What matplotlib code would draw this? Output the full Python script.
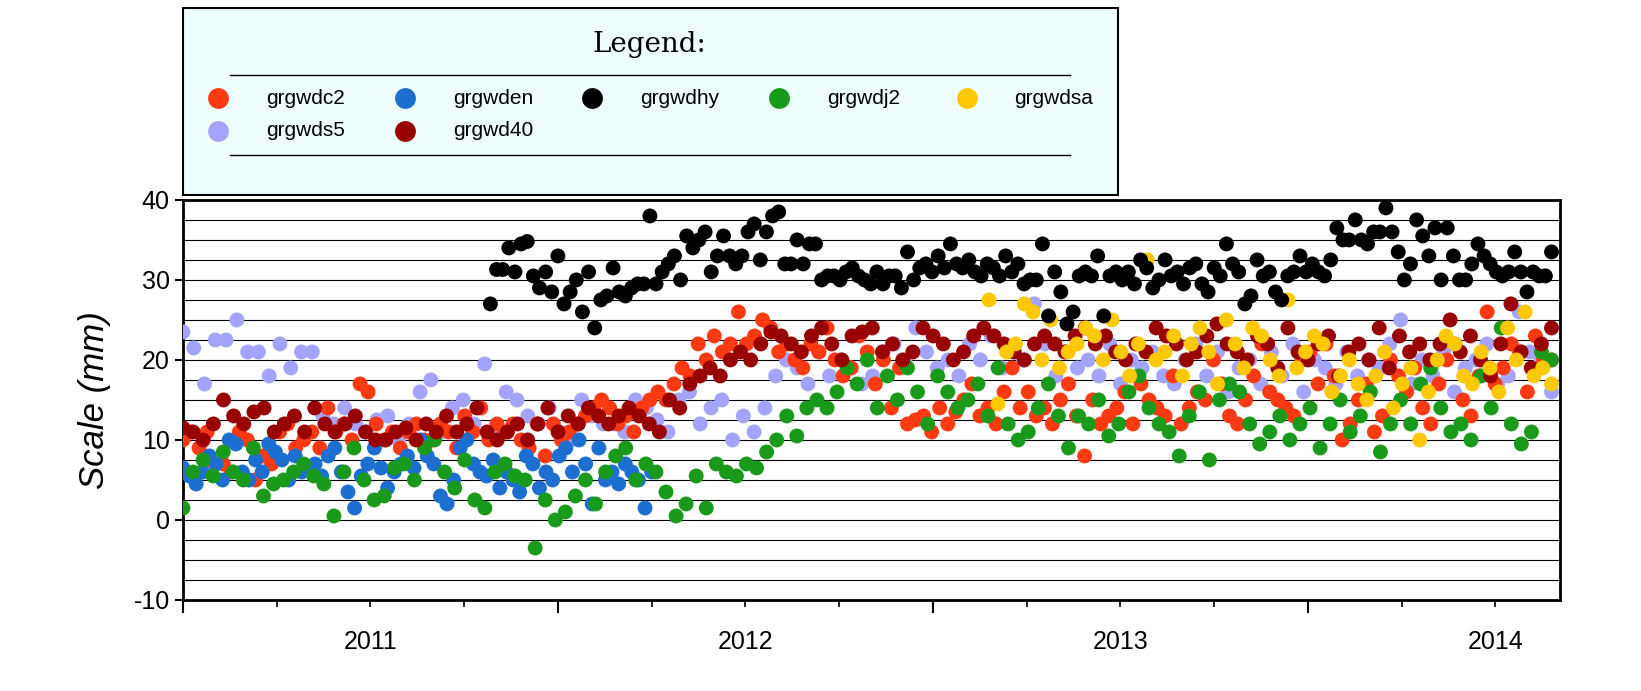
import numpy as np
import matplotlib
matplotlib.use("Agg")
import matplotlib.pyplot as plt
from matplotlib.lines import Line2D
from matplotlib.patches import Rectangle

plt.rcParams['axes.unicode_minus'] = False
plt.rcParams['font.family'] = ['Liberation Sans', 'DejaVu Sans']

# series: (name, colour, start year, end year, values)
c2 = [10,11,9,11,7,7,6,11,10,5,8,7,11,12,9,10,11,9,14,11,12,10,17,16,12,10,11,9,11,12,10,10,12,11,9,13,11,14,10,12,11,12,10,9,12,8,12,10,
      11,12,13,14,15,14,12,13,11,14,15,16,15,17,19,18,22,20,23,21,22,
      26,22,23,25,24,21,22,20,19,22,21,24,20,18,19,23,21,17,20,14,19,12,12.5,13,11,14,12,13.5,15,17,13,14,12,16,19,14,16,13,14,12,15,17,13,8,15,12,13,14,16,12,
      17,15,14,13,18,12,14,16,15,20,17,13,12,15,18,22,16,15,14,13,20,21,17,22,18,10,12,15,17,11,13,20,18,16,19,14,12,17,20,22,15,13,18,26,17,19,22,21,16,23,20,20]
den = [6.5,5.5,4.5,6,8,7,5,10,9.5,6,5,7.5,6,9.5,8.5,7.5,5,8,6,6.5,7,5.5,8,9,6,3.5,1.5,5.5,7,9,6.5,4,6,7,8,6.5,10,8,7,3,2,5,9,10,7,6,5.5,7.5,4,6,5,3.5,8,7,4,6,5,8,9,6,10,7,2,9,5,6,4.5,7,6,5,1.5,6]
hy = [27,31.3,31.3,34,31,34.5,34.8,30.5,29,31,28.5,33,27,28.5,30,26,31,24,27.5,28,31.5,28.5,28,29,29.5,29.5,38,29.5,31,32,33,30,35.5,34,35,36,31,33,35.5,33,32,33,36,37,32.5,36,38,38.5,32,32,35,32,34.5,34.5,30,30.5,30.5,30,31,31.5,30.5,30,29.5,31,29.5,30.5,30.5,29,33.5,30,31.5,32,31,33,31.5,34.5,32,31.5,32.5,31,30.5,32,31.5,30.5,33,31,32,29.5,30,30,34.5,25.5,31,28.5,24.5,26,30.5,31,30.5,33,25.5,30.5,31,30,31,29.5,32.5,31.5,29,30,32.5,30.5,31,29.5,31.5,32,29.5,28.5,31.5,30.5,34.5,32,31,27,28,32.5,30.5,31,28.5,27.5,30.5,31,33,31,32,31,30.5,32.5,36.5,35,35,37.5,35,34.5,36,36,39,36,33.5,30,32,37.5,35.5,33,36.5,30,36.5,33,30,30,32,34.5,33,32,31,30.5,31,33.5,31,28.5,31,30.5,30.5,33.5]
j2 = [1.5,6,7.5,5.5,8.5,6,5,9,3,4.5,5,6,7,5.5,4.5,0.5,6,9,5,2.5,3,6.5,7,5,9,10,6,4,7.5,2.5,1.5,6,7,5.5,5,-3.5,2.5,0,1,3,5,2,6,8,9,5,7,6,3.5,0.5,2,5.5,1.5,7,6,5.5,7,6.5,8.5,10,13,10.5,14,15,14,16,19,17,20,14,18,15,19,16,12,18,16,14,15,17,13,19,12,10,11,14,17,13,9,13,12,15,10.5,12,16,18,14,12,11,8,13,16,7.5,15,17,16,12,9.5,11,13,10,12,14,9,12,15,11,13,16,8.5,12,15,12,17,19,14,11,12,10,18,14,24,12,9.5,11,21,20]
sa = [27.5,14.5,21,22,27,26,20,25,19,21,22,24,23,20,25,21,18,22,32.5,20,21,23,18,22,24,21,17,25,22,19,24,23,20,18,27.5,19,21,23,22,16,18,20,17,15,18,21,14,17,19,10,16,20,23,22,18,17,21,19,16,24,20,26,18,19,17]
s5 = [23.5,21.5,17,22.5,22.5,25,21,21,18,22,19,21,21,13,12,14,12,11,12.5,13,10,12,16,17.5,11,14,15,12,19.5,11,16,15,13,12,14,11,10,15,13,12,12,11,15,14,12.5,11,15,16,12,14,15,10,13,11,14,18,20,19,17,21,18,20,19,17,18,21,22,20,24,21,19,20,18,22,20,23,19,21,20,27,22,18,21,19,20,18,22,17,20,19,21,18,17,20,22,18,21,16,19,20,17,21,18,22,16,20,19,17,21,18,20,19,22,25,17,20,18,21,16,19,20,22,17,18,26,21,20,16]
d40 = [11.5,11,10,12,15,13,12,13.5,14,11,12,13,11,14,12,11,12,13,11,10,10,11,11.5,10,12,11,13,11,12,14,11,10,11,12,10,12,14,11,13,12,14,13,12,13,14,13,12,11,15,14,17,18,19,18,20,21,20,22,23.5,23,22,21,23,24,22,20,23,23.5,24,21,22,20,21,24,23,22,20,21,23,24,23,22,21,20,22,23,22,21,23,24,22,23,21,20,22,21,24,23,22,20,21,23,24.5,22,21,20,23,22,19,24,21,20,22,23,18,21,22,20,24,19,23,21,22,20,22,25,21,23,20,18,22,27,21,19,22,24]

series = [
    ("grgwdc2", "#ff3a12", 2011.0, 2014.65, c2),
    ("grgwden", "#1c6fd1", 2011.0, 2012.25, den),
    ("grgwdhy", "#000000", 2011.82, 2014.65, hy),
    ("grgwdj2", "#1a9a1a", 2011.0, 2014.65, j2),
    ("grgwdsa", "#ffc800", 2013.15, 2014.65, sa),
    ("grgwds5", "#a4a4ff", 2011.0, 2014.65, s5),
    ("grgwd40", "#990000", 2011.0, 2014.65, d40),
]
draw_order = ["grgwds5", "grgwdc2", "grgwden", "grgwdj2", "grgwd40", "grgwdsa", "grgwdhy"]

fig = plt.figure(figsize=(16.41, 6.91), dpi=100)
ax = fig.add_axes([0.1115, 0.1317, 0.839, 0.579])

lookup = {s[0]: s for s in series}
for name in draw_order:
    _, col, t0, t1, vals = lookup[name]
    t = np.linspace(t0, t1, len(vals))
    ax.scatter(t, vals, s=115, color=col, edgecolor="none", zorder=3)

ax.set_xlim(2011.0, 2014.672)
ax.set_ylim(-10, 40)
ax.set_yticks(np.arange(-10, 41, 10))
ax.set_yticks(np.arange(-10, 40.1, 2.5), minor=True)
ax.yaxis.grid(True, which="both", color="black", linewidth=0.8)
ax.set_axisbelow(True)
ax.set_xticks([2011, 2012, 2013, 2014])
ax.set_xticks(np.arange(2011, 2014.7, 0.25), minor=True)
ax.set_xticklabels([])
ax.tick_params(axis="x", which="major", direction="out", length=9, width=1.5)
ax.tick_params(axis="x", which="minor", direction="out", length=5, width=1.2)
ax.tick_params(axis="y", which="major", direction="out", length=6, width=1.5, labelsize=18)
ax.tick_params(axis="y", which="minor", length=0)
for sp in ax.spines.values():
    sp.set_linewidth(2)
for yr in [2011, 2012, 2013, 2014]:
    ax.text(yr + 0.5, -0.075, str(yr), transform=ax.get_xaxis_transform(),
            ha="center", va="top", fontsize=18)
ax.set_ylabel("Scale (mm)", fontsize=25, style="italic", labelpad=16)

# legend box
fig.patches.append(Rectangle((0.1115, 0.718), 0.570, 0.2706, transform=fig.transFigure,
                             facecolor="#eefefe", edgecolor="black", linewidth=1.5))
fig.text(0.396, 0.935, "Legend:", ha="center", va="center", fontsize=20, family="serif")
for yy in [0.892, 0.776]:
    fig.add_artist(Line2D([0.14, 0.652], [yy, yy], color="black", linewidth=1))
xs = [0.133, 0.247, 0.361, 0.475, 0.589]
for i, (name, col, *_rest) in enumerate(series):
    row, c = divmod(i, 5)
    y = 0.858 - row * 0.047
    fig.add_artist(Line2D([xs[c]], [y], marker="o", markersize=15, color=col,
                          markeredgecolor="none", transform=fig.transFigure))
    fig.text(xs[c] + 0.029, y, name, va="center", fontsize=15)

fig.savefig("out.png", dpi=100)
